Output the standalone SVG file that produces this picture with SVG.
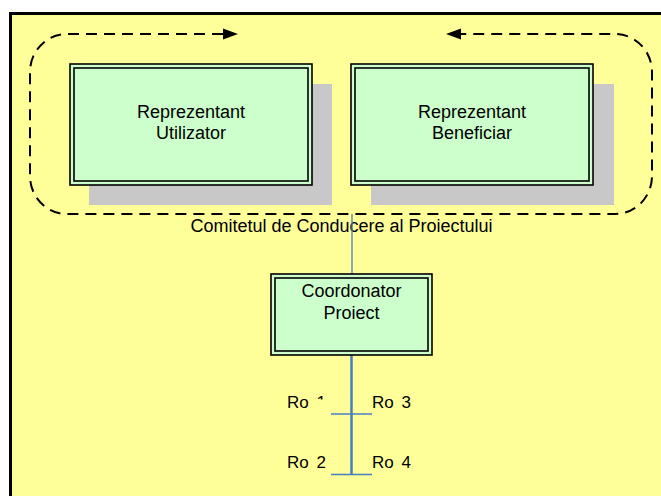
<svg xmlns="http://www.w3.org/2000/svg" width="661" height="496" viewBox="0 0 661 496">
  <style>
    .lbl { font-family: "Liberation Sans", Arial, sans-serif; font-size: 18px; fill: #000; }
    .mid { text-anchor: middle; }
    .ro { font-family: "Liberation Sans", Arial, sans-serif; font-size: 17px; fill: #000; word-spacing: 3px; }
    .outer { fill: #CCFFCC; stroke: #000; stroke-width: 1.6; }
    .inner { fill: none; stroke: #000; stroke-width: 1.6; }
    .shadow { fill: #C8C8C8; }
    .dash { fill: none; stroke: #000; stroke-width: 2; stroke-dasharray: 11 7; }
    .link { stroke: #4A7CC4; fill: none; }
  </style>
  <defs>
    <!-- the digit of the first role label is cut off just below its top -->
    <clipPath id="clipOne">
      <rect x="280" y="380" width="37" height="40"/>
      <rect x="317" y="380" width="25" height="19.5"/>
    </clipPath>
  </defs>

  <!-- page background -->
  <rect x="0" y="0" width="661" height="496" fill="#FFFFFF"/>
  <rect x="10.5" y="13.5" width="660" height="500" fill="#FFFF99" stroke="#000" stroke-width="3"/>

  <!-- steering committee outline with circulation arrows -->
  <g id="committee">
    <path class="dash" d="M 223 34 H 67 A 37 38 0 0 0 30 72 V 176 A 37 38 0 0 0 67 214 H 615 A 37 38 0 0 0 652 176 V 72 A 37 38 0 0 0 615 34 H 461"/>
    <polygon points="238,34 223,28.5 223,39.5" fill="#000"/>
    <polygon points="446,34 461,28.5 461,39.5" fill="#000"/>
    <text class="lbl mid" x="341.5" y="231.5">Comitetul de Conducere al Proiectului</text>
  </g>

  <!-- connectors -->
  <g id="connectors">
    <line class="link" x1="352" y1="214" x2="352" y2="274" stroke-width="1.3"/>
    <line class="link" x1="351.5" y1="355" x2="351.5" y2="475" stroke-width="2.5"/>
    <line class="link" x1="331" y1="414" x2="372" y2="414" stroke-width="1.6"/>
    <line class="link" x1="331" y1="474.5" x2="372" y2="474.5" stroke-width="1.6"/>
  </g>

  <g id="node-utilizator">
    <rect class="shadow" x="89" y="84" width="243" height="121"/>
    <rect class="outer" x="70" y="64" width="242" height="121"/>
    <rect class="inner" x="74" y="68" width="234" height="113"/>
    <text class="lbl mid" x="191" y="118">Reprezentant</text>
    <text class="lbl mid" x="191" y="139">Utilizator</text>
  </g>

  <g id="node-beneficiar">
    <rect class="shadow" x="371" y="84" width="243" height="121"/>
    <rect class="outer" x="351" y="64" width="242" height="121"/>
    <rect class="inner" x="355" y="68" width="234" height="113"/>
    <text class="lbl mid" x="472" y="118">Reprezentant</text>
    <text class="lbl mid" x="472" y="139">Beneficiar</text>
  </g>

  <g id="node-coordonator">
    <rect class="outer" x="271" y="274" width="161" height="81"/>
    <rect class="inner" x="275" y="278" width="153" height="73"/>
    <text class="lbl mid" x="351.5" y="297">Coordonator</text>
    <text class="lbl mid" x="351.5" y="319">Proiect</text>
  </g>

  <g id="roles">
    <text class="ro" x="287" y="408" clip-path="url(#clipOne)">Ro 1</text>
    <text class="ro" x="372" y="408">Ro 3</text>
    <text class="ro" x="287" y="468">Ro 2</text>
    <text class="ro" x="372" y="468">Ro 4</text>
  </g>
</svg>
